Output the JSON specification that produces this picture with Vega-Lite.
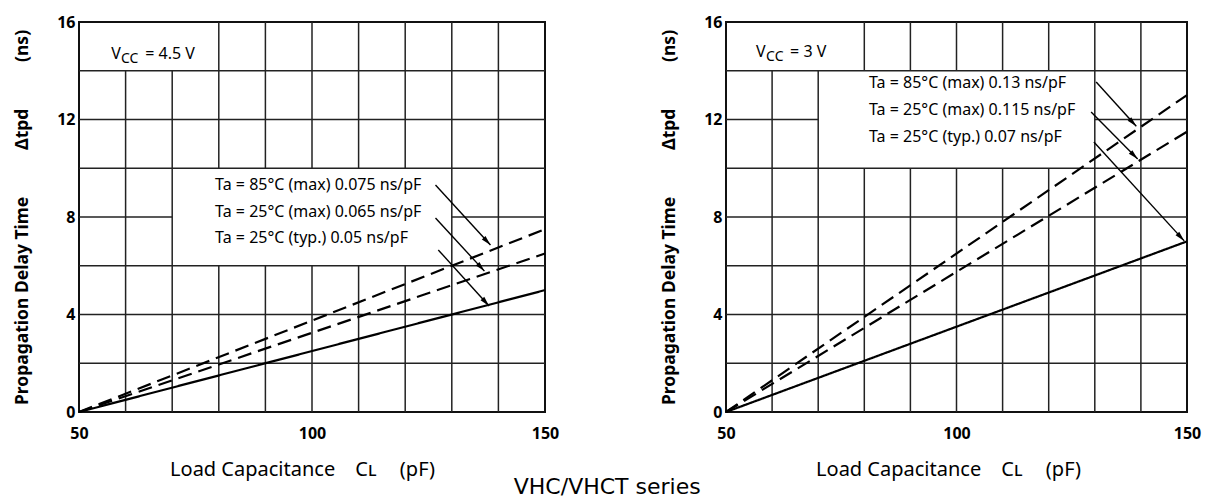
{
  "$schema": "https://vega.github.io/schema/vega-lite/v6.json",
  "background": "white",
  "padding": {"left": 12, "top": 13, "right": 4, "bottom": 2},
  "title": {"text": "VHC/VHCT series", "orient": "bottom", "anchor": "middle", "fontSize": 22, "font": "DejaVu Sans", "fontWeight": "normal", "color": "#000", "offset": -3},
  "config": {
    "view": {"stroke": "#111", "strokeWidth": 2},
    "font": "Noto Sans",
    "axis": {"labelColor": "#000", "titleColor": "#000", "labelFont": "Noto Sans", "titleFont": "Noto Sans"}
  },
  "spacing": 99,
  "datasets": {
    "grid": [
      {"p": "L", "x": 60, "x2": 60, "y": 0, "y2": 14},
      {"p": "L", "x": 70, "x2": 70, "y": 0, "y2": 14},
      {"p": "L", "x": 80, "x2": 80, "y": 0, "y2": 6},
      {"p": "L", "x": 80, "x2": 80, "y": 10, "y2": 16},
      {"p": "L", "x": 90, "x2": 90, "y": 0, "y2": 6},
      {"p": "L", "x": 90, "x2": 90, "y": 10, "y2": 16},
      {"p": "L", "x": 100, "x2": 100, "y": 0, "y2": 6},
      {"p": "L", "x": 100, "x2": 100, "y": 10, "y2": 16},
      {"p": "L", "x": 110, "x2": 110, "y": 0, "y2": 6},
      {"p": "L", "x": 110, "x2": 110, "y": 10, "y2": 16},
      {"p": "L", "x": 120, "x2": 120, "y": 0, "y2": 6},
      {"p": "L", "x": 120, "x2": 120, "y": 10, "y2": 16},
      {"p": "L", "x": 130, "x2": 130, "y": 0, "y2": 16},
      {"p": "L", "x": 140, "x2": 140, "y": 0, "y2": 16},
      {"p": "L", "x": 50, "x2": 150, "y": 2, "y2": 2},
      {"p": "L", "x": 50, "x2": 150, "y": 4, "y2": 4},
      {"p": "L", "x": 50, "x2": 150, "y": 6, "y2": 6},
      {"p": "L", "x": 50, "x2": 70, "y": 8, "y2": 8},
      {"p": "L", "x": 130, "x2": 150, "y": 8, "y2": 8},
      {"p": "L", "x": 50, "x2": 150, "y": 10, "y2": 10},
      {"p": "L", "x": 50, "x2": 150, "y": 12, "y2": 12},
      {"p": "L", "x": 50, "x2": 150, "y": 14, "y2": 14},
      {"p": "R", "x": 60, "x2": 60, "y": 0, "y2": 14},
      {"p": "R", "x": 70, "x2": 70, "y": 0, "y2": 14},
      {"p": "R", "x": 80, "x2": 80, "y": 0, "y2": 10},
      {"p": "R", "x": 80, "x2": 80, "y": 14, "y2": 16},
      {"p": "R", "x": 90, "x2": 90, "y": 0, "y2": 10},
      {"p": "R", "x": 90, "x2": 90, "y": 14, "y2": 16},
      {"p": "R", "x": 100, "x2": 100, "y": 0, "y2": 10},
      {"p": "R", "x": 100, "x2": 100, "y": 14, "y2": 16},
      {"p": "R", "x": 110, "x2": 110, "y": 0, "y2": 10},
      {"p": "R", "x": 110, "x2": 110, "y": 14, "y2": 16},
      {"p": "R", "x": 120, "x2": 120, "y": 0, "y2": 10},
      {"p": "R", "x": 120, "x2": 120, "y": 14, "y2": 16},
      {"p": "R", "x": 130, "x2": 130, "y": 0, "y2": 16},
      {"p": "R", "x": 140, "x2": 140, "y": 0, "y2": 16},
      {"p": "R", "x": 50, "x2": 150, "y": 2, "y2": 2},
      {"p": "R", "x": 50, "x2": 150, "y": 4, "y2": 4},
      {"p": "R", "x": 50, "x2": 150, "y": 6, "y2": 6},
      {"p": "R", "x": 50, "x2": 150, "y": 8, "y2": 8},
      {"p": "R", "x": 50, "x2": 150, "y": 10, "y2": 10},
      {"p": "R", "x": 50, "x2": 70, "y": 12, "y2": 12},
      {"p": "R", "x": 130, "x2": 150, "y": 12, "y2": 12},
      {"p": "R", "x": 50, "x2": 150, "y": 14, "y2": 14}
    ],
    "lines": [
      {"p": "L", "s": "85max", "kind": "max", "x": 50, "y": 0},
      {"p": "L", "s": "85max", "kind": "max", "x": 150, "y": 7.5},
      {"p": "L", "s": "25max", "kind": "max", "x": 50, "y": 0},
      {"p": "L", "s": "25max", "kind": "max", "x": 150, "y": 6.5},
      {"p": "L", "s": "25typ", "kind": "typ", "x": 50, "y": 0},
      {"p": "L", "s": "25typ", "kind": "typ", "x": 150, "y": 5},
      {"p": "R", "s": "85max", "kind": "max", "x": 50, "y": 0},
      {"p": "R", "s": "85max", "kind": "max", "x": 150, "y": 13},
      {"p": "R", "s": "25max", "kind": "max", "x": 50, "y": 0},
      {"p": "R", "s": "25max", "kind": "max", "x": 150, "y": 11.5},
      {"p": "R", "s": "25typ", "kind": "typ", "x": 50, "y": 0},
      {"p": "R", "s": "25typ", "kind": "typ", "x": 150, "y": 7}
    ],
    "arrows": [
      {"p": "L", "x": 126.5, "y": 9.31, "x2": 138.3, "y2": 6.85, "ang": 137},
      {"p": "L", "x": 126.5, "y": 7.96, "x2": 137.0, "y2": 5.78, "ang": 137},
      {"p": "L", "x": 127.1, "y": 6.65, "x2": 138.0, "y2": 4.35, "ang": 138},
      {"p": "R", "x": 130.3, "y": 13.54, "x2": 139.0, "y2": 11.72, "ang": 137},
      {"p": "R", "x": 129.2, "y": 12.31, "x2": 139.3, "y2": 10.38, "ang": 135},
      {"p": "R", "x": 129.8, "y": 11.08, "x2": 149.4, "y2": 7.02, "ang": 137}
    ],
    "labels": [
      {"p": "L", "x": 79.2, "y": 9.3, "t": "Ta = 85°C (max) 0.075 ns/pF"},
      {"p": "L", "x": 79.2, "y": 8.22, "t": "Ta = 25°C (max) 0.065 ns/pF"},
      {"p": "L", "x": 79.2, "y": 7.13, "t": "Ta = 25°C (typ.)  0.05 ns/pF"},
      {"p": "R", "x": 81.0, "y": 13.48, "t": "Ta = 85°C (max) 0.13 ns/pF"},
      {"p": "R", "x": 81.0, "y": 12.38, "t": "Ta = 25°C (max) 0.115 ns/pF"},
      {"p": "R", "x": 81.0, "y": 11.27, "t": "Ta = 25°C (typ.)  0.07 ns/pF"}
    ],
    "vcc": [
      {"p": "L", "part": "big", "x": 56.9, "y": 14.5, "t": "V"},
      {"p": "L", "part": "small", "x": 59.0, "y": 14.5, "t": "CC"},
      {"p": "L", "part": "big", "x": 64.2, "y": 14.5, "t": "= 4.5 V"},
      {"p": "R", "part": "big", "x": 56.5, "y": 14.58, "t": "V"},
      {"p": "R", "part": "small", "x": 58.7, "y": 14.58, "t": "CC"},
      {"p": "R", "part": "big", "x": 63.9, "y": 14.58, "t": "= 3 V"}
    ]
  },
  "hconcat": [
    {
      "width": 466,
      "height": 390,
      "layer": [
        {
          "data": {"name": "grid"},
          "transform": [{"filter": "datum.p === 'L'"}],
          "mark": {"type": "rule", "color": "#222", "strokeWidth": 1.5},
          "encoding": {
            "x": {"field": "x", "type": "quantitative", "scale": {"domain": [50, 150], "nice": false, "zero": false},
              "axis": {"values": [50, 100, 150], "title": "Load Capacitance\u2003C\u029F\u2003\u2009(pF)", "titleX": 223, "grid": false, "ticks": false, "domain": false, "labelFlush": false, "labelPadding": 13, "labelFontSize": 16, "labelFontWeight": "bold", "titleFontSize": 20, "titleFontWeight": "normal", "titlePadding": 18}},
            "x2": {"field": "x2"},
            "y": {"field": "y", "type": "quantitative", "scale": {"domain": [0, 16], "nice": false, "zero": false},
              "axis": {"values": [0, 4, 8, 12, 16], "title": "Propagation Delay Time\u2003\u2003\u2002\u2009Δtpd\u2003\u2003\u2002\u2009(ns)", "grid": false, "ticks": false, "domain": false, "labelFlush": false, "labelPadding": 4, "labelFontSize": 16, "labelFontWeight": "bold", "titleFontSize": 17.5, "titleFontWeight": "bold", "titlePadding": 25}},
            "y2": {"field": "y2"}
          }
        },
        {
          "data": {"name": "lines"},
          "transform": [{"filter": "datum.p === 'L'"}],
          "mark": {"type": "line", "color": "#000", "strokeWidth": 2.2},
          "encoding": {
            "x": {"field": "x", "type": "quantitative"},
            "y": {"field": "y", "type": "quantitative"},
            "detail": {"field": "s"},
            "strokeDash": {"field": "kind", "type": "nominal", "scale": {"domain": ["typ", "max"], "range": [[1, 0], [14, 7]]}, "legend": null}
          }
        },
        {
          "data": {"name": "arrows"},
          "transform": [{"filter": "datum.p === 'L'"}],
          "mark": {"type": "rule", "color": "#000", "strokeWidth": 1.4},
          "encoding": {
            "x": {"field": "x", "type": "quantitative"},
            "y": {"field": "y", "type": "quantitative"},
            "x2": {"field": "x2"},
            "y2": {"field": "y2"}
          }
        },
        {
          "data": {"name": "arrows"},
          "transform": [{"filter": "datum.p === 'L'"}],
          "mark": {"type": "point", "shape": "M0,0L0.5,2L-0.5,2Z", "filled": true, "color": "#000", "opacity": 1, "size": 100},
          "encoding": {
            "x": {"field": "x2", "type": "quantitative"},
            "y": {"field": "y2", "type": "quantitative"},
            "angle": {"field": "ang", "type": "quantitative", "scale": null}
          }
        },
        {
          "data": {"name": "labels"},
          "transform": [{"filter": "datum.p === 'L'"}],
          "mark": {"type": "text", "align": "left", "baseline": "middle", "fontSize": 16, "font": "Noto Sans", "color": "#000"},
          "encoding": {
            "x": {"field": "x", "type": "quantitative"},
            "y": {"field": "y", "type": "quantitative"},
            "text": {"field": "t"}
          }
        },
        {
          "data": {"name": "vcc"},
          "transform": [{"filter": "datum.p === 'L' && datum.part === 'big'"}],
          "mark": {"type": "text", "align": "left", "baseline": "alphabetic", "fontSize": 16, "font": "Noto Sans", "color": "#000"},
          "encoding": {
            "x": {"field": "x", "type": "quantitative"},
            "y": {"field": "y", "type": "quantitative"},
            "text": {"field": "t"}
          }
        },
        {
          "data": {"name": "vcc"},
          "transform": [{"filter": "datum.p === 'L' && datum.part === 'small'"}],
          "mark": {"type": "text", "align": "left", "baseline": "alphabetic", "fontSize": 14, "dy": 4, "font": "Noto Sans", "color": "#000"},
          "encoding": {
            "x": {"field": "x", "type": "quantitative"},
            "y": {"field": "y", "type": "quantitative"},
            "text": {"field": "t"}
          }
        }
      ]
    },
    {
      "width": 461,
      "height": 390,
      "layer": [
        {
          "data": {"name": "grid"},
          "transform": [{"filter": "datum.p === 'R'"}],
          "mark": {"type": "rule", "color": "#222", "strokeWidth": 1.5},
          "encoding": {
            "x": {"field": "x", "type": "quantitative", "scale": {"domain": [50, 150], "nice": false, "zero": false},
              "axis": {"values": [50, 100, 150], "title": "Load Capacitance\u2003C\u029F\u2003\u2009(pF)", "titleX": 222, "grid": false, "ticks": false, "domain": false, "labelFlush": false, "labelPadding": 13, "labelFontSize": 16, "labelFontWeight": "bold", "titleFontSize": 20, "titleFontWeight": "normal", "titlePadding": 18}},
            "x2": {"field": "x2"},
            "y": {"field": "y", "type": "quantitative", "scale": {"domain": [0, 16], "nice": false, "zero": false},
              "axis": {"values": [0, 4, 8, 12, 16], "title": "Propagation Delay Time\u2003\u2003\u2002\u2009Δtpd\u2003\u2003\u2002\u2009(ns)", "grid": false, "ticks": false, "domain": false, "labelFlush": false, "labelPadding": 4, "labelFontSize": 16, "labelFontWeight": "bold", "titleFontSize": 17.5, "titleFontWeight": "bold", "titlePadding": 25}},
            "y2": {"field": "y2"}
          }
        },
        {
          "data": {"name": "lines"},
          "transform": [{"filter": "datum.p === 'R'"}],
          "mark": {"type": "line", "color": "#000", "strokeWidth": 2.2},
          "encoding": {
            "x": {"field": "x", "type": "quantitative"},
            "y": {"field": "y", "type": "quantitative"},
            "detail": {"field": "s"},
            "strokeDash": {"field": "kind", "type": "nominal", "scale": {"domain": ["typ", "max"], "range": [[1, 0], [14, 7]]}, "legend": null}
          }
        },
        {
          "data": {"name": "arrows"},
          "transform": [{"filter": "datum.p === 'R'"}],
          "mark": {"type": "rule", "color": "#000", "strokeWidth": 1.4},
          "encoding": {
            "x": {"field": "x", "type": "quantitative"},
            "y": {"field": "y", "type": "quantitative"},
            "x2": {"field": "x2"},
            "y2": {"field": "y2"}
          }
        },
        {
          "data": {"name": "arrows"},
          "transform": [{"filter": "datum.p === 'R'"}],
          "mark": {"type": "point", "shape": "M0,0L0.5,2L-0.5,2Z", "filled": true, "color": "#000", "opacity": 1, "size": 100},
          "encoding": {
            "x": {"field": "x2", "type": "quantitative"},
            "y": {"field": "y2", "type": "quantitative"},
            "angle": {"field": "ang", "type": "quantitative", "scale": null}
          }
        },
        {
          "data": {"name": "labels"},
          "transform": [{"filter": "datum.p === 'R'"}],
          "mark": {"type": "text", "align": "left", "baseline": "middle", "fontSize": 16, "font": "Noto Sans", "color": "#000"},
          "encoding": {
            "x": {"field": "x", "type": "quantitative"},
            "y": {"field": "y", "type": "quantitative"},
            "text": {"field": "t"}
          }
        },
        {
          "data": {"name": "vcc"},
          "transform": [{"filter": "datum.p === 'R' && datum.part === 'big'"}],
          "mark": {"type": "text", "align": "left", "baseline": "alphabetic", "fontSize": 16, "font": "Noto Sans", "color": "#000"},
          "encoding": {
            "x": {"field": "x", "type": "quantitative"},
            "y": {"field": "y", "type": "quantitative"},
            "text": {"field": "t"}
          }
        },
        {
          "data": {"name": "vcc"},
          "transform": [{"filter": "datum.p === 'R' && datum.part === 'small'"}],
          "mark": {"type": "text", "align": "left", "baseline": "alphabetic", "fontSize": 14, "dy": 4, "font": "Noto Sans", "color": "#000"},
          "encoding": {
            "x": {"field": "x", "type": "quantitative"},
            "y": {"field": "y", "type": "quantitative"},
            "text": {"field": "t"}
          }
        }
      ]
    }
  ]
}
